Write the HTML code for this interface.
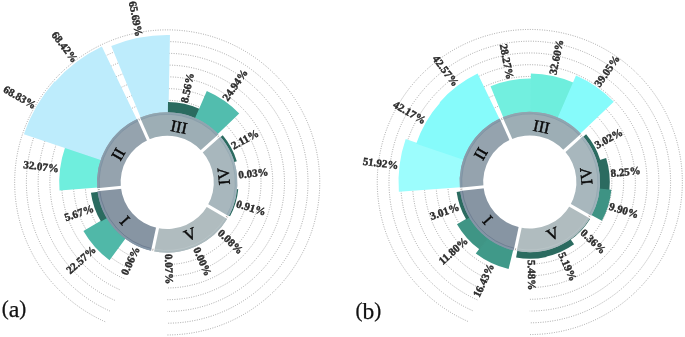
<!DOCTYPE html>
<html><head><meta charset="utf-8"><title>Figure</title>
<style>
html,body{margin:0;padding:0;background:#fff;}
body{width:685px;height:337px;overflow:hidden;}
svg{display:block;}
#all{filter:blur(0.45px);}
.lb{font-family:"Liberation Serif",serif;font-weight:bold;font-size:11px;fill:#2b2b2b;stroke:#2b2b2b;stroke-width:0.4px;}
.rn{font-family:"Liberation Serif",serif;}
.cap{font-family:"Liberation Serif",serif;font-size:21px;fill:#111;stroke:#111;stroke-width:0.25px;}
</style></head><body>
<svg width="685" height="337" viewBox="0 0 685 337">
<rect width="685" height="337" fill="#fff"/>
<g id="all">
<g fill="none" stroke="#8e8e8e" stroke-width="0.85" stroke-dasharray="0.9 1.5">
<path d="M133.83,257.36A82.05,82.05 0 1 1 167.20,264.45"/>
<path d="M129.05,268.09A93.80,93.80 0 1 1 167.20,276.20"/>
<path d="M124.27,278.82A105.55,105.55 0 1 1 167.20,287.95"/>
<path d="M119.49,289.56A117.30,117.30 0 1 1 167.20,299.70"/>
<path d="M114.71,300.29A129.05,129.05 0 1 1 167.20,311.45"/>
<path d="M109.93,311.03A140.80,140.80 0 1 1 167.20,323.20"/>
<path d="M105.15,321.76A152.55,152.55 0 1 1 167.20,334.95"/>
</g>
<path d="M125.91,238.06L109.52,260.16A96.82,96.82 0 0 1 83.41,230.91L107.22,217.12A69.30,69.30 0 0 0 125.91,238.06Z" fill="#50b8a8"/>
<path d="M107.53,217.64L100.93,221.54A76.96,76.96 0 0 1 90.93,192.71L98.52,191.69A69.30,69.30 0 0 0 107.53,217.64Z" fill="#2b6b60"/>
<path d="M98.10,187.60L59.52,190.50A107.98,107.98 0 0 1 65.14,147.13L101.70,159.76A69.30,69.30 0 0 0 98.10,187.60Z" fill="#6feedd"/>
<path d="M101.51,160.33L23.89,134.26A151.18,151.18 0 0 1 54.74,81.37L115.65,136.09A69.30,69.30 0 0 0 101.51,160.33Z" fill="#bdecfc"/>
<path d="M115.24,136.54L54.22,82.68A150.69,150.69 0 0 1 101.85,46.61L137.15,119.96A69.30,69.30 0 0 0 115.24,136.54Z" fill="#bdecfc"/>
<path d="M140.90,118.28L111.24,45.94A147.49,147.49 0 0 1 169.95,34.94L168.49,113.11A69.30,69.30 0 0 0 140.90,118.28Z" fill="#bdecfc"/>
<path d="M167.89,113.10L167.99,102.05A80.36,80.36 0 0 1 199.80,108.95L195.31,119.06A69.30,69.30 0 0 0 167.89,113.10Z" fill="#2b6b60"/>
<path d="M194.76,118.82L206.81,91.01A99.60,99.60 0 0 1 239.21,113.59L217.30,134.52A69.30,69.30 0 0 0 194.76,118.82Z" fill="#52bdae"/>
<path d="M220.05,137.58L222.71,135.33A72.78,72.78 0 0 1 236.82,161.20L233.50,162.22A69.30,69.30 0 0 0 220.05,137.58Z" fill="#2b6b60"/>
<path d="M236.19,188.96L238.25,189.16A71.37,71.37 0 0 1 230.04,216.24L228.22,215.25A69.30,69.30 0 0 0 236.19,188.96Z" fill="#2b6b60"/>
<path d="M157.51,227.98L152.60,251.07A70.20,70.20 0 0 1 97.36,189.49L120.84,187.11A46.60,46.60 0 0 0 157.51,227.98Z" fill="#8795a3"/>
<path d="M120.86,187.27L97.38,189.74A70.20,70.20 0 0 1 138.87,118.17L148.39,139.76A46.60,46.60 0 0 0 120.86,187.27Z" fill="#95a3ae"/>
<path d="M148.25,139.83L138.65,118.27A70.20,70.20 0 0 1 219.53,135.61L201.94,151.34A46.60,46.60 0 0 0 148.25,139.83Z" fill="#9daeb5"/>
<path d="M201.83,151.22L219.37,135.43A70.20,70.20 0 0 1 227.87,217.71L207.48,205.84A46.60,46.60 0 0 0 201.83,151.22Z" fill="#a8b7bd"/>
<path d="M207.56,205.70L227.99,217.50A70.20,70.20 0 0 1 152.36,251.01L157.35,227.95A46.60,46.60 0 0 0 207.56,205.70Z" fill="#b0bcbf"/>
<path d="M152.82,250.04A69.15,69.15 0 0 1 98.40,189.39" fill="none" stroke="#8496a7" stroke-width="2.10"/>
<path d="M153.04,249.01A68.10,68.10 0 0 1 99.45,189.28" fill="none" stroke="#5b6880" stroke-width="0.5"/>
<path d="M98.43,189.63A69.15,69.15 0 0 1 139.29,119.13" fill="none" stroke="#889cab" stroke-width="2.10"/>
<path d="M99.47,189.52A68.10,68.10 0 0 1 139.72,120.09" fill="none" stroke="#71869a" stroke-width="0.5"/>
<path d="M139.07,119.23A69.15,69.15 0 0 1 218.75,136.31" fill="none" stroke="#90a5b0" stroke-width="2.10"/>
<path d="M139.50,120.19A68.10,68.10 0 0 1 217.97,137.01" fill="none" stroke="#7d93a2" stroke-width="0.5"/>
<path d="M218.59,136.13A69.15,69.15 0 0 1 226.96,217.18" fill="none" stroke="#9fb2bb" stroke-width="2.10"/>
<path d="M217.81,136.83A68.10,68.10 0 0 1 226.06,216.66" fill="none" stroke="#8aa0aa" stroke-width="0.5"/>
<path d="M227.09,216.97A69.15,69.15 0 0 1 152.59,249.99" fill="none" stroke="#acbabe" stroke-width="2.10"/>
<path d="M226.18,216.45A68.10,68.10 0 0 1 152.81,248.96" fill="none" stroke="#c2cccf" stroke-width="0.5"/>
<line x1="157.72" y1="227.00" x2="152.48" y2="251.65" stroke="#fff" stroke-width="3.1"/>
<line x1="153.10" y1="248.72" x2="152.69" y2="250.67" stroke="#5a4a40" stroke-width="0.7" opacity="0.7"/>
<line x1="121.85" y1="187.17" x2="96.79" y2="189.80" stroke="#fff" stroke-width="3.1"/>
<line x1="99.77" y1="189.49" x2="97.78" y2="189.70" stroke="#5a4a40" stroke-width="0.7" opacity="0.7"/>
<line x1="148.65" y1="140.74" x2="138.40" y2="117.72" stroke="#fff" stroke-width="3.1"/>
<line x1="139.62" y1="120.46" x2="138.81" y2="118.63" stroke="#5a4a40" stroke-width="0.7" opacity="0.7"/>
<line x1="201.09" y1="151.89" x2="219.81" y2="135.03" stroke="#fff" stroke-width="3.1"/>
<line x1="217.59" y1="137.03" x2="219.07" y2="135.69" stroke="#5a4a40" stroke-width="0.7" opacity="0.7"/>
<line x1="206.69" y1="205.20" x2="228.51" y2="217.80" stroke="#fff" stroke-width="3.1"/>
<line x1="225.92" y1="216.30" x2="227.65" y2="217.30" stroke="#5a4a40" stroke-width="0.7" opacity="0.7"/>
<text x="125.14" y="220.27" transform="rotate(48.0 125.14 220.27)" text-anchor="middle" dy="0.34em" font-size="16.5" fill="#0a0a0a" stroke="#0a0a0a" stroke-width="0.45" class="rn">I</text>
<text x="118.18" y="154.10" transform="rotate(300.0 118.18 154.10)" text-anchor="middle" dy="0.34em" font-size="16.5" fill="#0a0a0a" stroke="#0a0a0a" stroke-width="0.45" class="rn">II</text>
<text x="178.97" y="127.04" transform="rotate(12.0 178.97 127.04)" text-anchor="middle" dy="0.34em" font-size="16.5" fill="#0a0a0a" stroke="#0a0a0a" stroke-width="0.45" class="rn">III</text>
<text x="223.49" y="176.48" transform="rotate(-96.0 223.49 176.48)" text-anchor="middle" dy="0.34em" font-size="16.5" fill="#0a0a0a" stroke="#0a0a0a" stroke-width="0.45" class="rn">IV</text>
<text x="190.22" y="234.11" transform="rotate(-24.0 190.22 234.11)" text-anchor="middle" dy="0.34em" font-size="16.5" fill="#0a0a0a" stroke="#0a0a0a" stroke-width="0.45" class="rn">V</text>
<text x="136.80" y="247.19" transform="rotate(-64.87 136.80 247.19)" text-anchor="end" dy="0.33em" class="lb">0.06%</text>
<text x="94.36" y="247.99" transform="rotate(-42.00 94.36 247.99)" text-anchor="end" dy="0.33em" class="lb">22.57%</text>
<text x="93.36" y="208.02" transform="rotate(-19.13 93.36 208.02)" text-anchor="end" dy="0.33em" class="lb">5.67%</text>
<text x="58.86" y="168.84" transform="rotate(7.13 58.86 168.84)" text-anchor="end" dy="0.33em" class="lb">32.07%</text>
<text x="35.24" y="106.21" transform="rotate(30.00 35.24 106.21)" text-anchor="end" dy="0.33em" class="lb">68.83%</text>
<text x="75.51" y="61.31" transform="rotate(52.87 75.51 61.31)" text-anchor="end" dy="0.33em" class="lb">68.42%</text>
<text x="139.17" y="36.38" transform="rotate(79.13 139.17 36.38)" text-anchor="end" dy="0.33em" class="lb">65.69%</text>
<text x="184.16" y="102.62" transform="rotate(-78.00 184.16 102.62)" text-anchor="start" dy="0.33em" class="lb">8.56%</text>
<text x="224.83" y="99.69" transform="rotate(-55.13 224.83 99.69)" text-anchor="start" dy="0.33em" class="lb">24.94%</text>
<text x="231.99" y="146.68" transform="rotate(-28.87 231.99 146.68)" text-anchor="start" dy="0.33em" class="lb">2.11%</text>
<text x="238.34" y="174.92" transform="rotate(-6.00 238.34 174.92)" text-anchor="start" dy="0.33em" class="lb">0.03%</text>
<text x="236.65" y="203.46" transform="rotate(16.87 236.65 203.46)" text-anchor="start" dy="0.33em" class="lb">0.91%</text>
<text x="219.45" y="231.35" transform="rotate(43.13 219.45 231.35)" text-anchor="start" dy="0.33em" class="lb">0.08%</text>
<text x="196.28" y="247.72" transform="rotate(66.00 196.28 247.72)" text-anchor="start" dy="0.33em" class="lb">0.00%</text>
<text x="168.62" y="253.97" transform="rotate(88.87 168.62 253.97)" text-anchor="start" dy="0.33em" class="lb">0.07%</text>
<g fill="none" stroke="#8e8e8e" stroke-width="0.85" stroke-dasharray="0.9 1.5">
<path d="M496.43,256.96A82.05,82.05 0 1 1 529.80,264.05"/>
<path d="M491.65,267.69A93.80,93.80 0 1 1 529.80,275.80"/>
<path d="M486.87,278.42A105.55,105.55 0 1 1 529.80,287.55"/>
<path d="M482.09,289.16A117.30,117.30 0 1 1 529.80,299.30"/>
<path d="M477.31,299.89A129.05,129.05 0 1 1 529.80,311.05"/>
<path d="M472.53,310.63A140.80,140.80 0 1 1 529.80,322.80"/>
<path d="M467.75,321.36A152.55,152.55 0 1 1 529.80,334.55"/>
</g>
<path d="M513.39,249.33L508.58,269.06A89.61,89.61 0 0 1 475.79,253.50L488.03,237.30A69.30,69.30 0 0 0 513.39,249.33Z" fill="#409989"/>
<path d="M488.51,237.66L479.66,249.60A84.16,84.16 0 0 1 456.96,224.17L469.82,216.72A69.30,69.30 0 0 0 488.51,237.66Z" fill="#3f9585"/>
<path d="M470.13,217.24L466.22,219.55A73.84,73.84 0 0 1 456.63,191.89L461.12,191.29A69.30,69.30 0 0 0 470.13,217.24Z" fill="#2b6b60"/>
<path d="M460.70,187.20L398.86,191.85A131.31,131.31 0 0 1 405.70,139.11L464.30,159.36A69.30,69.30 0 0 0 460.70,187.20Z" fill="#9cfdfd"/>
<path d="M464.11,159.93L416.19,143.84A119.85,119.85 0 0 1 440.64,101.91L478.25,135.69A69.30,69.30 0 0 0 464.11,159.93Z" fill="#86fbfb"/>
<path d="M477.84,136.14L439.59,102.38A120.32,120.32 0 0 1 477.62,73.58L499.75,119.56A69.30,69.30 0 0 0 477.84,136.14Z" fill="#86fbfb"/>
<path d="M503.50,117.88L490.52,86.22A103.52,103.52 0 0 1 531.73,78.50L531.09,112.71A69.30,69.30 0 0 0 503.50,117.88Z" fill="#72efdf"/>
<path d="M530.49,112.70L530.87,73.40A108.60,108.60 0 0 1 573.86,82.73L557.91,118.66A69.30,69.30 0 0 0 530.49,112.70Z" fill="#6eeedd"/>
<path d="M557.36,118.42L576.00,75.40A116.18,116.18 0 0 1 613.80,101.73L579.90,134.12A69.30,69.30 0 0 0 557.36,118.42Z" fill="#86fbfb"/>
<path d="M582.65,137.18L586.12,134.24A73.85,73.85 0 0 1 600.45,160.49L596.10,161.82A69.30,69.30 0 0 0 582.65,137.18Z" fill="#2b6b60"/>
<path d="M595.92,161.24L606.12,158.03A79.99,79.99 0 0 1 609.37,190.27L598.73,189.16A69.30,69.30 0 0 0 595.92,161.24Z" fill="#2b6b60"/>
<path d="M598.79,188.56L611.36,189.76A81.93,81.93 0 0 1 601.94,220.84L590.82,214.85A69.30,69.30 0 0 0 598.79,188.56Z" fill="#3e9384"/>
<path d="M588.76,218.42L589.97,219.16A70.72,70.72 0 0 1 570.30,239.98L569.48,238.81A69.30,69.30 0 0 0 588.76,218.42Z" fill="#2b6b60"/>
<path d="M569.98,238.46L574.09,244.25A76.40,76.40 0 0 1 545.77,256.71L544.29,249.77A69.30,69.30 0 0 0 569.98,238.46Z" fill="#2b6b60"/>
<path d="M544.88,249.64L546.50,256.90A76.74,76.74 0 0 1 516.08,257.50L517.41,250.18A69.30,69.30 0 0 0 544.88,249.64Z" fill="#2b6b60"/>
<path d="M520.11,227.58L515.20,250.67A70.20,70.20 0 0 1 459.96,189.09L483.44,186.71A46.60,46.60 0 0 0 520.11,227.58Z" fill="#8795a3"/>
<path d="M483.46,186.87L459.98,189.34A70.20,70.20 0 0 1 501.47,117.77L510.99,139.36A46.60,46.60 0 0 0 483.46,186.87Z" fill="#95a3ae"/>
<path d="M510.85,139.43L501.25,117.87A70.20,70.20 0 0 1 582.13,135.21L564.54,150.94A46.60,46.60 0 0 0 510.85,139.43Z" fill="#9daeb5"/>
<path d="M564.43,150.82L581.97,135.03A70.20,70.20 0 0 1 590.47,217.31L570.08,205.44A46.60,46.60 0 0 0 564.43,150.82Z" fill="#a8b7bd"/>
<path d="M570.16,205.30L590.59,217.10A70.20,70.20 0 0 1 514.96,250.61L519.95,227.55A46.60,46.60 0 0 0 570.16,205.30Z" fill="#b0bcbf"/>
<path d="M515.42,249.64A69.15,69.15 0 0 1 461.00,188.99" fill="none" stroke="#8496a7" stroke-width="2.10"/>
<path d="M515.64,248.61A68.10,68.10 0 0 1 462.05,188.88" fill="none" stroke="#5b6880" stroke-width="0.5"/>
<path d="M461.03,189.23A69.15,69.15 0 0 1 501.89,118.73" fill="none" stroke="#889cab" stroke-width="2.10"/>
<path d="M462.07,189.12A68.10,68.10 0 0 1 502.32,119.69" fill="none" stroke="#71869a" stroke-width="0.5"/>
<path d="M501.67,118.83A69.15,69.15 0 0 1 581.35,135.91" fill="none" stroke="#90a5b0" stroke-width="2.10"/>
<path d="M502.10,119.79A68.10,68.10 0 0 1 580.57,136.61" fill="none" stroke="#7d93a2" stroke-width="0.5"/>
<path d="M581.19,135.73A69.15,69.15 0 0 1 589.56,216.78" fill="none" stroke="#9fb2bb" stroke-width="2.10"/>
<path d="M580.41,136.43A68.10,68.10 0 0 1 588.66,216.26" fill="none" stroke="#8aa0aa" stroke-width="0.5"/>
<path d="M589.69,216.57A69.15,69.15 0 0 1 515.19,249.59" fill="none" stroke="#acbabe" stroke-width="2.10"/>
<path d="M588.78,216.05A68.10,68.10 0 0 1 515.41,248.56" fill="none" stroke="#c2cccf" stroke-width="0.5"/>
<line x1="520.32" y1="226.60" x2="515.08" y2="251.25" stroke="#fff" stroke-width="3.1"/>
<line x1="515.70" y1="248.32" x2="515.29" y2="250.27" stroke="#5a4a40" stroke-width="0.7" opacity="0.7"/>
<line x1="484.45" y1="186.77" x2="459.39" y2="189.40" stroke="#fff" stroke-width="3.1"/>
<line x1="462.37" y1="189.09" x2="460.38" y2="189.30" stroke="#5a4a40" stroke-width="0.7" opacity="0.7"/>
<line x1="511.25" y1="140.34" x2="501.00" y2="117.32" stroke="#fff" stroke-width="3.1"/>
<line x1="502.22" y1="120.06" x2="501.41" y2="118.23" stroke="#5a4a40" stroke-width="0.7" opacity="0.7"/>
<line x1="563.69" y1="151.49" x2="582.41" y2="134.63" stroke="#fff" stroke-width="3.1"/>
<line x1="580.19" y1="136.63" x2="581.67" y2="135.29" stroke="#5a4a40" stroke-width="0.7" opacity="0.7"/>
<line x1="569.29" y1="204.80" x2="591.11" y2="217.40" stroke="#fff" stroke-width="3.1"/>
<line x1="588.52" y1="215.90" x2="590.25" y2="216.90" stroke="#5a4a40" stroke-width="0.7" opacity="0.7"/>
<text x="487.74" y="219.87" transform="rotate(48.0 487.74 219.87)" text-anchor="middle" dy="0.34em" font-size="16.5" fill="#0a0a0a" stroke="#0a0a0a" stroke-width="0.45" class="rn">I</text>
<text x="480.78" y="153.70" transform="rotate(300.0 480.78 153.70)" text-anchor="middle" dy="0.34em" font-size="16.5" fill="#0a0a0a" stroke="#0a0a0a" stroke-width="0.45" class="rn">II</text>
<text x="541.57" y="126.64" transform="rotate(12.0 541.57 126.64)" text-anchor="middle" dy="0.34em" font-size="16.5" fill="#0a0a0a" stroke="#0a0a0a" stroke-width="0.45" class="rn">III</text>
<text x="586.09" y="176.08" transform="rotate(-96.0 586.09 176.08)" text-anchor="middle" dy="0.34em" font-size="16.5" fill="#0a0a0a" stroke="#0a0a0a" stroke-width="0.45" class="rn">IV</text>
<text x="552.82" y="233.71" transform="rotate(-24.0 552.82 233.71)" text-anchor="middle" dy="0.34em" font-size="16.5" fill="#0a0a0a" stroke="#0a0a0a" stroke-width="0.45" class="rn">V</text>
<text x="491.23" y="264.21" transform="rotate(-64.87 491.23 264.21)" text-anchor="end" dy="0.33em" class="lb">16.43%</text>
<text x="466.36" y="239.12" transform="rotate(-42.00 466.36 239.12)" text-anchor="end" dy="0.33em" class="lb">11.80%</text>
<text x="458.91" y="206.59" transform="rotate(-19.13 458.91 206.59)" text-anchor="end" dy="0.33em" class="lb">3.01%</text>
<text x="398.32" y="165.55" transform="rotate(7.13 398.32 165.55)" text-anchor="end" dy="0.33em" class="lb">51.92%</text>
<text x="424.97" y="121.48" transform="rotate(30.00 424.97 121.48)" text-anchor="end" dy="0.33em" class="lb">42.17%</text>
<text x="456.44" y="85.12" transform="rotate(52.87 456.44 85.12)" text-anchor="end" dy="0.33em" class="lb">42.57%</text>
<text x="510.06" y="79.16" transform="rotate(79.13 510.06 79.16)" text-anchor="end" dy="0.33em" class="lb">28.27%</text>
<text x="552.63" y="74.59" transform="rotate(-78.00 552.63 74.59)" text-anchor="start" dy="0.33em" class="lb">32.60%</text>
<text x="596.90" y="85.69" transform="rotate(-55.13 596.90 85.69)" text-anchor="start" dy="0.33em" class="lb">39.05%</text>
<text x="595.52" y="145.77" transform="rotate(-28.87 595.52 145.77)" text-anchor="start" dy="0.33em" class="lb">3.02%</text>
<text x="610.55" y="173.51" transform="rotate(-6.00 610.55 173.51)" text-anchor="start" dy="0.33em" class="lb">8.25%</text>
<text x="609.36" y="206.12" transform="rotate(16.87 609.36 206.12)" text-anchor="start" dy="0.33em" class="lb">9.90%</text>
<text x="582.29" y="231.17" transform="rotate(43.13 582.29 231.17)" text-anchor="start" dy="0.33em" class="lb">0.36%</text>
<text x="561.36" y="252.89" transform="rotate(66.00 561.36 252.89)" text-anchor="start" dy="0.33em" class="lb">5.19%</text>
<text x="531.34" y="259.92" transform="rotate(88.87 531.34 259.92)" text-anchor="start" dy="0.33em" class="lb">5.48%</text>
<text x="1.7" y="316.8" class="cap"><tspan dy="-1.9">(</tspan><tspan dy="1.9" font-size="24">a</tspan><tspan dy="-1.9">)</tspan></text>
<text x="355.6" y="318.6" class="cap"><tspan dy="-1.8">(</tspan><tspan dy="1.8" font-size="23.5">b</tspan><tspan dy="-1.8">)</tspan></text>
</g>
</svg>
</body></html>
